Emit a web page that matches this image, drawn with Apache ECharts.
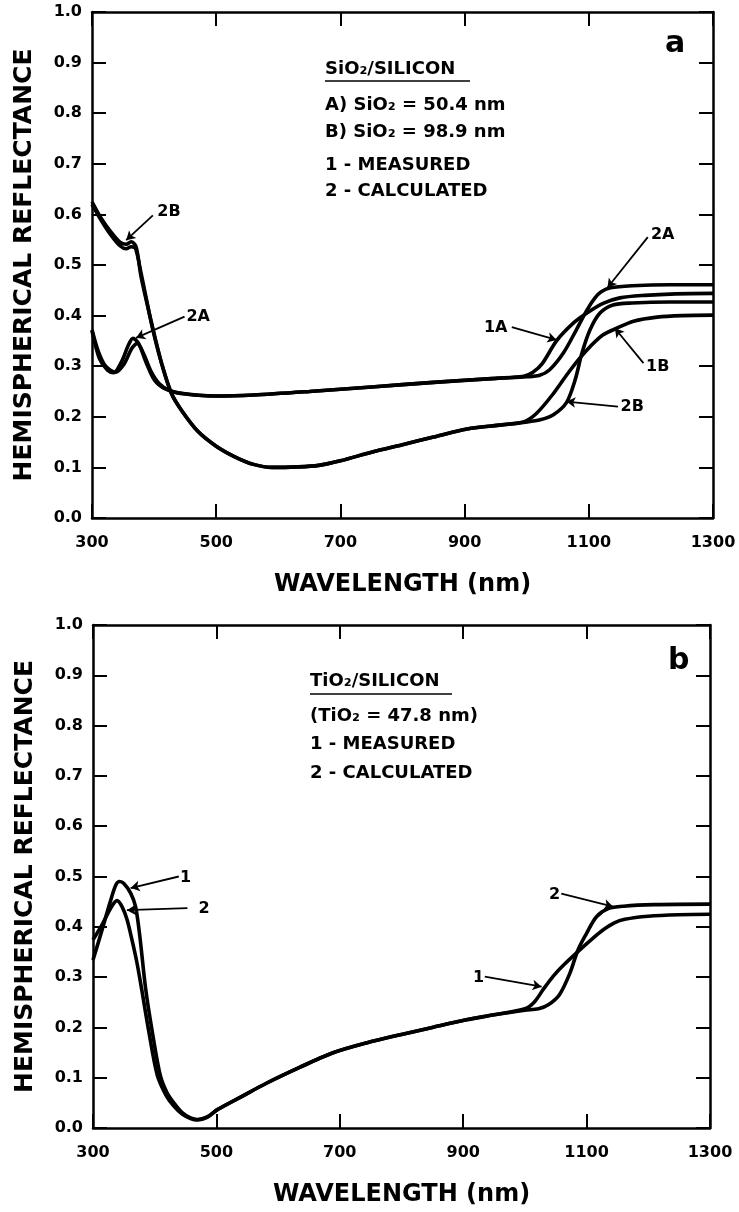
<!DOCTYPE html>
<html><head><meta charset="utf-8">
<script src="https://cdn.jsdelivr.net/npm/echarts/dist/echarts.min.js"></script>
<style>html,body{margin:0;padding:0;background:#fff}#c{width:739px;height:1212px}</style>
</head><body><div id="c"></div>
<script>
// ---------- DATA (wavelength nm, hemispherical reflectance) ----------
const xTicks = [300, 500, 700, 900, 1100, 1300];
const yTicks = [0.0, 0.1, 0.2, 0.3, 0.4, 0.5, 0.6, 0.7, 0.8, 0.9, 1.0];

// Panel a: SiO2/Silicon
const a_1A = [[300,0.372],[310,0.33],[322,0.30],[338,0.288],[352,0.305],[364,0.335],[373,0.345],[383,0.325],[395,0.29],[408,0.266],[425,0.252],[450,0.245],[500,0.241],[560,0.243],[650,0.25],[750,0.259],[850,0.268],[950,0.276],[995,0.28],[1010,0.288],[1025,0.305],[1048,0.35],[1075,0.385],[1097,0.405],[1123,0.424],[1150,0.435],[1190,0.44],[1240,0.443],[1300,0.444]];
const a_2A = [[300,0.37],[312,0.315],[325,0.292],[335,0.287],[348,0.31],[358,0.34],[366,0.355],[375,0.345],[388,0.305],[401,0.272],[418,0.255],[440,0.247],[500,0.241],[560,0.243],[650,0.25],[750,0.259],[850,0.268],[950,0.276],[1000,0.279],[1021,0.282],[1037,0.293],[1059,0.326],[1080,0.372],[1097,0.411],[1110,0.435],[1120,0.447],[1135,0.455],[1170,0.459],[1230,0.461],[1300,0.461]];
const a_1B = [[300,0.62],[315,0.588],[330,0.56],[345,0.538],[355,0.532],[363,0.536],[370,0.533],[378,0.49],[388,0.43],[398,0.372],[412,0.306],[428,0.246],[444,0.213],[470,0.172],[500,0.142],[530,0.121],[560,0.106],[590,0.1],[630,0.101],[665,0.104],[700,0.113],[750,0.13],[800,0.145],[850,0.16],[904,0.176],[960,0.184],[995,0.19],[1016,0.207],[1043,0.246],[1070,0.292],[1097,0.332],[1123,0.362],[1145,0.375],[1172,0.389],[1210,0.397],[1250,0.4],[1300,0.401]];
const a_2B = [[300,0.625],[315,0.592],[330,0.566],[345,0.545],[355,0.541],[363,0.546],[371,0.536],[379,0.477],[396,0.385],[412,0.306],[428,0.246],[444,0.213],[470,0.172],[500,0.142],[530,0.121],[560,0.106],[590,0.1],[630,0.101],[665,0.104],[700,0.113],[750,0.13],[800,0.145],[850,0.16],[904,0.176],[960,0.184],[995,0.189],[1022,0.194],[1043,0.204],[1064,0.228],[1078,0.273],[1089,0.326],[1102,0.372],[1118,0.405],[1139,0.421],[1170,0.425],[1230,0.427],[1300,0.427]];

// Panel b: TiO2/Silicon
const b_1 = [[300,0.334],[315,0.395],[328,0.45],[337,0.483],[343,0.49],[350,0.486],[361,0.467],[369,0.44],[376,0.38],[385,0.28],[396,0.192],[409,0.105],[420,0.07],[431,0.05],[445,0.03],[458,0.02],[469,0.017],[485,0.022],[501,0.036],[540,0.062],[581,0.089],[634,0.12],[688,0.149],[743,0.169],[800,0.186],[850,0.2],[905,0.215],[950,0.225],[1000,0.237],[1015,0.25],[1030,0.276],[1046,0.302],[1062,0.323],[1089,0.354],[1110,0.377],[1127,0.394],[1145,0.408],[1162,0.415],[1200,0.421],[1250,0.424],[1300,0.425]];
const b_2 = [[300,0.374],[315,0.405],[330,0.44],[339,0.452],[347,0.44],[355,0.415],[363,0.375],[371,0.33],[379,0.275],[390,0.195],[404,0.106],[418,0.066],[430,0.045],[445,0.027],[458,0.019],[469,0.016],[485,0.021],[501,0.036],[540,0.062],[581,0.089],[634,0.12],[688,0.149],[743,0.169],[800,0.186],[850,0.2],[905,0.215],[950,0.225],[1000,0.234],[1022,0.237],[1038,0.245],[1056,0.265],[1073,0.308],[1086,0.354],[1100,0.387],[1116,0.42],[1135,0.436],[1160,0.441],[1210,0.444],[1300,0.445]];

// Annotation labels and arrows (data coordinates)
const annotA = [
  {name:'2B', at:[424,0.605], from:[398,0.598], to:[355,0.549]},
  {name:'2A', at:[471,0.397], from:[449,0.398], to:[371,0.356]},
  {name:'2A', at:[1219,0.559], from:[1195,0.555], to:[1130,0.455]},
  {name:'1A', at:[950,0.375], from:[976,0.377], to:[1048,0.352]},
  {name:'1B', at:[1211,0.298], from:[1188,0.306], to:[1142,0.375]},
  {name:'2B', at:[1170,0.219], from:[1147,0.220], to:[1064,0.230]}
];
const annotB = [
  {name:'1', at:[450,0.498], from:[439,0.500], to:[361,0.477]},
  {name:'2', at:[480,0.435], from:[453,0.437], to:[355,0.433]},
  {name:'2', at:[1048,0.463], from:[1059,0.466], to:[1143,0.440]},
  {name:'1', at:[925,0.298], from:[935,0.301], to:[1027,0.281]}
];

// ---------- CHART ----------
const FONT = '"DejaVu Sans", sans-serif';
const BLACK = '#000';
const chart = echarts.init(document.getElementById('c'), null, {renderer:'canvas'});

function xAxes(gi) {
  const base = {type:'value', gridIndex:gi, min:xTicks[0], max:xTicks[xTicks.length-1], interval:200,
    splitLine:{show:false}, axisLine:{show:true, onZero:false, lineStyle:{color:BLACK, width:2.5}},
    axisTick:{show:true, inside:true, length:14, lineStyle:{color:BLACK, width:2}}};
  return [
    Object.assign({}, base, {position:'bottom',
      axisLabel:{color:BLACK, fontFamily:FONT, fontWeight:'bold', fontSize:16, margin:17,
        formatter: v => String(v)},
      name:'WAVELENGTH (nm)', nameLocation:'middle', nameGap:55,
      nameTextStyle:{color:BLACK, fontFamily:FONT, fontWeight:'bold', fontSize:24}}),
    Object.assign({}, base, {position:'top', axisLabel:{show:false}})
  ];
}
function yAxes(gi) {
  const base = {type:'value', gridIndex:gi, min:yTicks[0], max:yTicks[yTicks.length-1], interval:0.1,
    splitLine:{show:false}, axisLine:{show:true, onZero:false, lineStyle:{color:BLACK, width:2.5}},
    axisTick:{show:true, inside:true, length:14, lineStyle:{color:BLACK, width:2}}};
  return [
    Object.assign({}, base, {position:'left',
      axisLabel:{color:BLACK, fontFamily:FONT, fontWeight:'bold', fontSize:16, margin:10,
        formatter: v => v.toFixed(1)},
      name:'HEMISPHERICAL REFLECTANCE', nameLocation:'middle', nameGap:55,
      nameTextStyle:{color:BLACK, fontFamily:FONT, fontWeight:'bold', fontSize:25}}),
    Object.assign({}, base, {position:'right', axisLabel:{show:false}})
  ];
}
function curve(data, xi, yi) {
  return {type:'line', xAxisIndex:xi, yAxisIndex:yi, data:data, symbol:'none', showSymbol:false,
    smooth:0.3, lineStyle:{color:BLACK, width:3.6}, silent:true, animation:false, z:3};
}
function annotSeries(list, xi, yi) {
  return {type:'scatter', xAxisIndex:xi, yAxisIndex:yi, symbol:'circle', symbolSize:0.5, silent:true, animation:false,
    itemStyle:{color:'#fff', opacity:1},
    data: list.map(a => ({name:a.name, value:a.at})),
    label:{show:true, position:'inside', formatter:'{b}', color:'#000', opacity:1, textBorderWidth:0,
      fontFamily:FONT, fontWeight:'bold', fontSize:16},
    markLine:{silent:true, animation:false, symbol:['none','arrow'], symbolSize:[8,9],
      lineStyle:{color:BLACK, width:1.8, type:'solid', opacity:1}, label:{show:false},
      emphasis:{disabled:true},
      data: list.map(a => [{coord:a.from}, {coord:a.to}])},
    z:4};
}

const LEG_FONT = 'bold 18px ' + FONT;
function txt(x, y, s, font) {
  return {type:'text', left:x, top:y, silent:true, style:{text:s, fill:BLACK, font:font || LEG_FONT}};
}

chart.setOption({
  animation:false,
  backgroundColor:'#fff',
  grid:[
    {left:92, top:12, right:26, height:506, containLabel:false},
    {left:93, top:625, right:29, height:503, containLabel:false}
  ],
  xAxis:[...xAxes(0), ...xAxes(1)],
  yAxis:[...yAxes(0), ...yAxes(1)],
  series:[
    curve(a_1A,0,0), curve(a_2A,0,0), curve(a_1B,0,0), curve(a_2B,0,0),
    annotSeries(annotA,0,0),
    curve(b_1,2,2), curve(b_2,2,2),
    annotSeries(annotB,2,2)
  ],
  graphic:[
    txt(325, 60, 'SiO₂/SILICON'),
    {type:'line', silent:true, shape:{x1:325, y1:81, x2:470, y2:81}, style:{stroke:BLACK, lineWidth:1.6}},
    txt(325, 96, 'A) SiO₂ = 50.4 nm'),
    txt(325, 123, 'B) SiO₂ = 98.9 nm'),
    txt(325, 156, '1 - MEASURED'),
    txt(325, 182, '2 - CALCULATED'),
    txt(665, 29, 'a', 'bold 30px ' + FONT),
    txt(310, 672, 'TiO₂/SILICON'),
    {type:'line', silent:true, shape:{x1:310, y1:694, x2:452, y2:694}, style:{stroke:BLACK, lineWidth:1.6}},
    txt(310, 707, '(TiO₂ = 47.8 nm)'),
    txt(310, 735, '1 - MEASURED'),
    txt(310, 764, '2 - CALCULATED'),
    txt(668, 646, 'b', 'bold 30px ' + FONT)
  ]
});
</script>
</body></html>
